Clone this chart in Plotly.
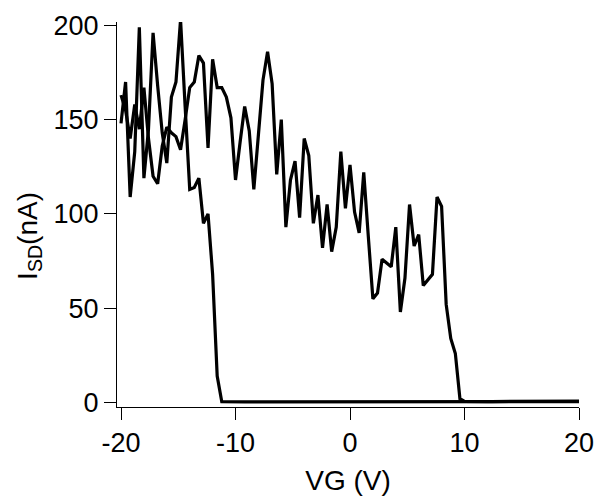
import numpy as np
import plotly.graph_objects as go

# Gate-voltage sweep grid (V), 0.4 V steps from -20 V to +20 V
vg = np.linspace(-20, 20, 101)

# Source-drain current (nA), sweep that switches off near -11.6 V
isd_a = [
    148, 170, 109, 133, 199, 119, 145, 196, 168, 143,
    127, 162, 170, 203, 157, 113, 114, 119, 95, 100,
    68, 14, 0.4, 0.3, 0.3, 0.3, 0.3, 0.3, 0.3, 0.3,
    0.3, 0.3, 0.3, 0.3, 0.3, 0.3, 0.3, 0.3, 0.3, 0.3,
    0.3, 0.3, 0.3, 0.3, 0.3, 0.3, 0.3, 0.3, 0.3, 0.3,
    0.3, 0.3, 0.3, 0.3, 0.3, 0.3, 0.3, 0.3, 0.3, 0.3,
    0.3, 0.3, 0.3, 0.3, 0.3, 0.3, 0.3, 0.3, 0.3, 0.3,
    0.3, 0.3, 0.3, 0.3, 0.3, 0.3, 0.3, 0.3, 0.3, 0.3,
    0.3, 0.3, 0.3, 0.3, 0.3, 0.3, 0.3, 0.3, 0.3, 0.3,
    0.4, 0.4, 0.4, 0.4, 0.4, 0.4, 0.4, 0.5, 0.5, 0.5,
    0.5,
]

# Source-drain current (nA), sweep that switches off near +9.6 V
isd_b = [
    163, 155, 140, 158, 145, 167, 140, 120, 116, 136,
    146, 143, 141, 134, 150, 167, 170, 184, 180, 135,
    182, 167, 167, 162, 151, 118, 138, 157, 144, 113,
    142, 171, 186, 169, 121, 150, 93, 118, 128, 98,
    140, 131, 95, 110, 82, 105, 80, 93, 133, 103,
    126, 101, 90, 122, 88, 55, 58, 76, 74, 72,
    93, 48, 66, 105, 83, 89, 62, 65, 68, 109,
    104, 52, 34, 26, 2, 0.6, 0.5, 0.5, 0.5, 0.5,
    0.5, 0.5, 0.5, 0.5, 0.5, 0.5, 0.5, 0.5, 0.5, 0.5,
    0.5, 0.5, 0.5, 0.6, 0.6, 0.6, 0.6, 0.6, 0.7, 0.7,
    0.7,
]

x_ticks = [-20, -10, 0, 10, 20]
x_tick_text = ["-20", "-10", "0", "10", "20"]
y_ticks = [0, 50, 100, 150, 200]
y_tick_text = ["0", "50", "100", "150", "200"]

FONT = "Liberation Sans, Arial, Helvetica, sans-serif"
TICK_SIZE = 27
TITLE_SIZE = 28

fig = go.Figure()
for ys in (isd_a, isd_b):
    fig.add_trace(go.Scatter(
        x=vg, y=ys, mode="lines",
        line=dict(color="black", width=3.2),
        hoverinfo="skip",
    ))

axis_common = dict(
    showline=True, linecolor="black", linewidth=1,
    ticks="outside", ticklen=12, tickwidth=1, tickcolor="black",
    showgrid=False, zeroline=False, automargin=False,
    tickfont=dict(family=FONT, size=TICK_SIZE, color="black"),
)

fig.update_layout(
    width=595, height=499,
    margin=dict(l=117, r=16, t=22, b=92),
    paper_bgcolor="white", plot_bgcolor="white",
    showlegend=False,
    font=dict(family=FONT, color="black"),
    xaxis=dict(
        range=[-20.35, 20], tickvals=x_ticks, ticktext=x_tick_text,
        title=dict(text="VG (V)", font=dict(family=FONT, size=TITLE_SIZE), standoff=12),
        **axis_common,
    ),
    yaxis=dict(
        range=[-2.4, 201.8], tickvals=y_ticks, ticktext=y_tick_text,
        **axis_common,
    ),
    annotations=[dict(
        text="I<sub>SD</sub>(nA)", textangle=-90,
        xref="paper", yref="paper",
        x=-0.19, y=0.445, xanchor="center", yanchor="middle",
        showarrow=False,
        font=dict(family=FONT, size=TITLE_SIZE, color="black"),
    )],
)

fig.write_html("out.html", config={"displayModeBar": False})
